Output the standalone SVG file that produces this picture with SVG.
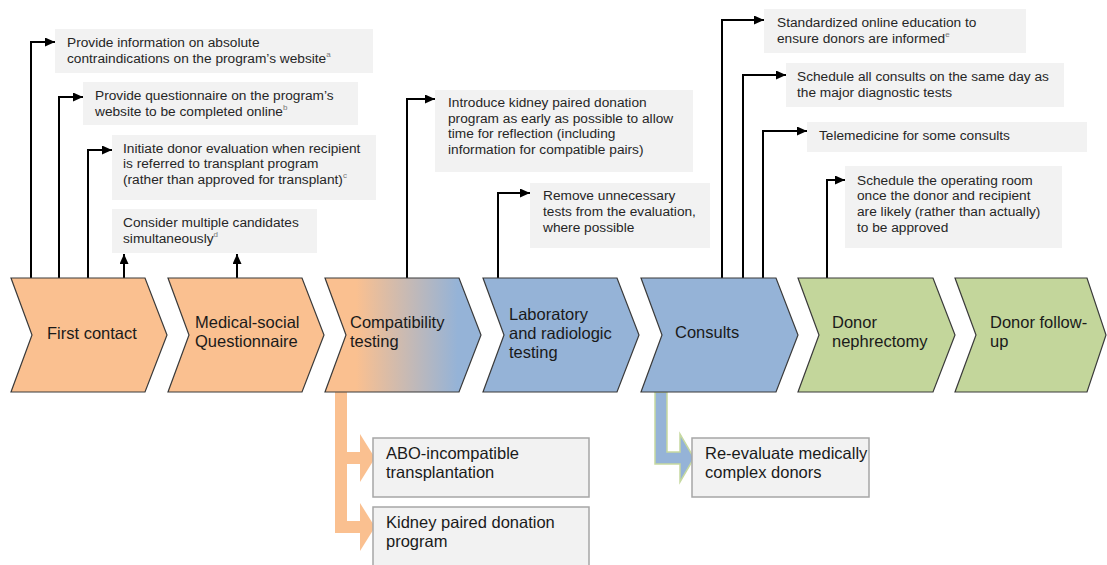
<svg xmlns="http://www.w3.org/2000/svg" width="1107" height="565" viewBox="0 0 1107 565">
<style>
.bg{fill:#fff}
.note{fill:#f2f2f2}
.nt{font-family:"Liberation Sans",Arial,sans-serif;font-size:13.7px;fill:#262626}
.sup{font-size:8px;fill:#777}
.chev{stroke:#3a3a3a;stroke-width:1.2;stroke-linejoin:miter}
.ct{font-family:"Liberation Sans",Arial,sans-serif;font-size:16.5px;fill:#1a1a1a}
.box{fill:#f2f2f2;stroke:#a6a6a6;stroke-width:1.5}
.conn{fill:none;stroke:#000;stroke-width:2}
.or{fill:#fac090}
.bl{fill:#95b3d7}
.gr{fill:#c3d69b}
</style>
<defs>
<marker id="ah" markerUnits="userSpaceOnUse" markerWidth="10" markerHeight="9" refX="10" refY="4.5" orient="auto">
<path d="M0,0 L10,4.5 L0,9 Z" fill="#000"/>
</marker>
<linearGradient id="grad" gradientUnits="userSpaceOnUse" x1="325" y1="0" x2="481" y2="0">
<stop offset="0.2" stop-color="#fac090"/>
<stop offset="0.85" stop-color="#95b3d7"/>
</linearGradient>
</defs>
<rect class="bg" width="1107" height="565"/>

<g id="connectors">
<path class="conn" d="M31,278 V42 H55" marker-end="url(#ah)"/>
<path class="conn" d="M59,278 V97 H83" marker-end="url(#ah)"/>
<path class="conn" d="M88,278 V150 H112" marker-end="url(#ah)"/>
<path class="conn" d="M124,278 V254" marker-end="url(#ah)"/>
<path class="conn" d="M237,278 V254" marker-end="url(#ah)"/>
<path class="conn" d="M407,278 V99 H435" marker-end="url(#ah)"/>
<path class="conn" d="M498,278 V193 H530" marker-end="url(#ah)"/>
<path class="conn" d="M722,278 V20 H764" marker-end="url(#ah)"/>
<path class="conn" d="M743,278 V75 H786" marker-end="url(#ah)"/>
<path class="conn" d="M763,278 V131 H807" marker-end="url(#ah)"/>
<path class="conn" d="M827,278 V180 H845" marker-end="url(#ah)"/>
<path class="or" d="M335,392 H347 V452 H360 V434 L375,458 L360,482 V464 H347 V521 H360 V503 L375,527 L360,551 V533 H335 Z"/>
<path class="bl" d="M655,392 H667 V452 H680 V434 L694,458 L680,482 V464 H655 Z" stroke="#c6d9a0" stroke-width="1.5"/>
</g>

<g id="note1">
<rect class="note" x="55" y="29" width="318" height="44"/>
<text class="nt" x="67" y="47">Provide information on absolute</text>
<text class="nt" x="67" y="63">contraindications on the program’s website<tspan class="sup" dy="-6">a</tspan></text>
</g>
<g id="note2">
<rect class="note" x="83" y="82" width="275" height="43"/>
<text class="nt" x="95" y="100">Provide questionnaire on the program’s</text>
<text class="nt" x="95" y="116">website to be completed online<tspan class="sup" dy="-6">b</tspan></text>
</g>
<g id="note3">
<rect class="note" x="112" y="135" width="264" height="65"/>
<text class="nt" x="123" y="153">Initiate donor evaluation when recipient</text>
<text class="nt" x="123" y="168">is referred to transplant program</text>
<text class="nt" x="123" y="184">(rather than approved for transplant)<tspan class="sup" dy="-6">c</tspan></text>
</g>
<g id="note4">
<rect class="note" x="112" y="209" width="205" height="44"/>
<text class="nt" x="123" y="227">Consider multiple candidates</text>
<text class="nt" x="123" y="243">simultaneously<tspan class="sup" dy="-6">d</tspan></text>
</g>
<g id="note5">
<rect class="note" x="435" y="90" width="258" height="82"/>
<text class="nt" x="448" y="107">Introduce kidney paired donation</text>
<text class="nt" x="448" y="123">program as early as possible to allow</text>
<text class="nt" x="448" y="138">time for reflection (including</text>
<text class="nt" x="448" y="154">information for compatible pairs)</text>
</g>
<g id="note6">
<rect class="note" x="530" y="183" width="180" height="65"/>
<text class="nt" x="543" y="200">Remove unnecessary</text>
<text class="nt" x="543" y="216">tests from the evaluation,</text>
<text class="nt" x="543" y="232">where possible</text>
</g>
<g id="note7">
<rect class="note" x="764" y="9" width="262" height="44"/>
<text class="nt" x="777" y="27">Standardized online education to</text>
<text class="nt" x="777" y="43">ensure donors are informed<tspan class="sup" dy="-6">e</tspan></text>
</g>
<g id="note8">
<rect class="note" x="786" y="63" width="278" height="44"/>
<text class="nt" x="797" y="81">Schedule all consults on the same day as</text>
<text class="nt" x="797" y="97">the major diagnostic tests</text>
</g>
<g id="note9">
<rect class="note" x="807" y="122" width="280" height="30"/>
<text class="nt" x="819" y="140">Telemedicine for some consults</text>
</g>
<g id="note10">
<rect class="note" x="845" y="166" width="217" height="82"/>
<text class="nt" x="857" y="185">Schedule the operating room</text>
<text class="nt" x="857" y="200">once the donor and recipient</text>
<text class="nt" x="857" y="216">are likely (rather than actually)</text>
<text class="nt" x="857" y="232">to be approved</text>
</g>

<g id="step1">
<path class="chev or" d="M11,278 H145 L167,335 L145,392 H11 L32,335 Z"/>
<text class="ct" x="47" y="339">First contact</text>
</g>
<g id="step2">
<path class="chev or" d="M168,278 H302 L324,335 L302,392 H168 L189,335 Z"/>
<text class="ct" x="195" y="328">Medical-social</text>
<text class="ct" x="195" y="347">Questionnaire</text>
</g>
<g id="step3">
<path class="chev" fill="url(#grad)" d="M325,278 H459 L481,335 L459,392 H325 L346,335 Z"/>
<text class="ct" x="350" y="328">Compatibility</text>
<text class="ct" x="350" y="347">testing</text>
</g>
<g id="step4">
<path class="chev bl" d="M483,278 H617 L639,335 L617,392 H483 L504,335 Z"/>
<text class="ct" x="509" y="320">Laboratory</text>
<text class="ct" x="509" y="339">and radiologic</text>
<text class="ct" x="509" y="358">testing</text>
</g>
<g id="step5">
<path class="chev bl" d="M641,278 H776 L798,335 L776,392 H641 L662,335 Z"/>
<text class="ct" x="675" y="338">Consults</text>
</g>
<g id="step6">
<path class="chev gr" d="M798,278 H933 L955,335 L933,392 H798 L819,335 Z"/>
<text class="ct" x="832" y="328">Donor</text>
<text class="ct" x="832" y="347">nephrectomy</text>
</g>
<g id="step7">
<path class="chev gr" d="M955,278 H1087 L1106,335 L1087,392 H955 L976,335 Z"/>
<text class="ct" x="990" y="328">Donor follow-</text>
<text class="ct" x="990" y="347">up</text>
</g>

<g id="abo">
<rect class="box" x="373" y="438" width="216" height="59"/>
<text class="ct" x="386" y="459">ABO-incompatible</text>
<text class="ct" x="386" y="478">transplantation</text>
</g>
<g id="kpd">
<rect class="box" x="373" y="507" width="216" height="66"/>
<text class="ct" x="386" y="528">Kidney paired donation</text>
<text class="ct" x="386" y="547">program</text>
</g>
<g id="reeval">
<rect class="box" x="692" y="438" width="177" height="59"/>
<text class="ct" x="705" y="459">Re-evaluate medically</text>
<text class="ct" x="705" y="478">complex donors</text>
</g>
</svg>
